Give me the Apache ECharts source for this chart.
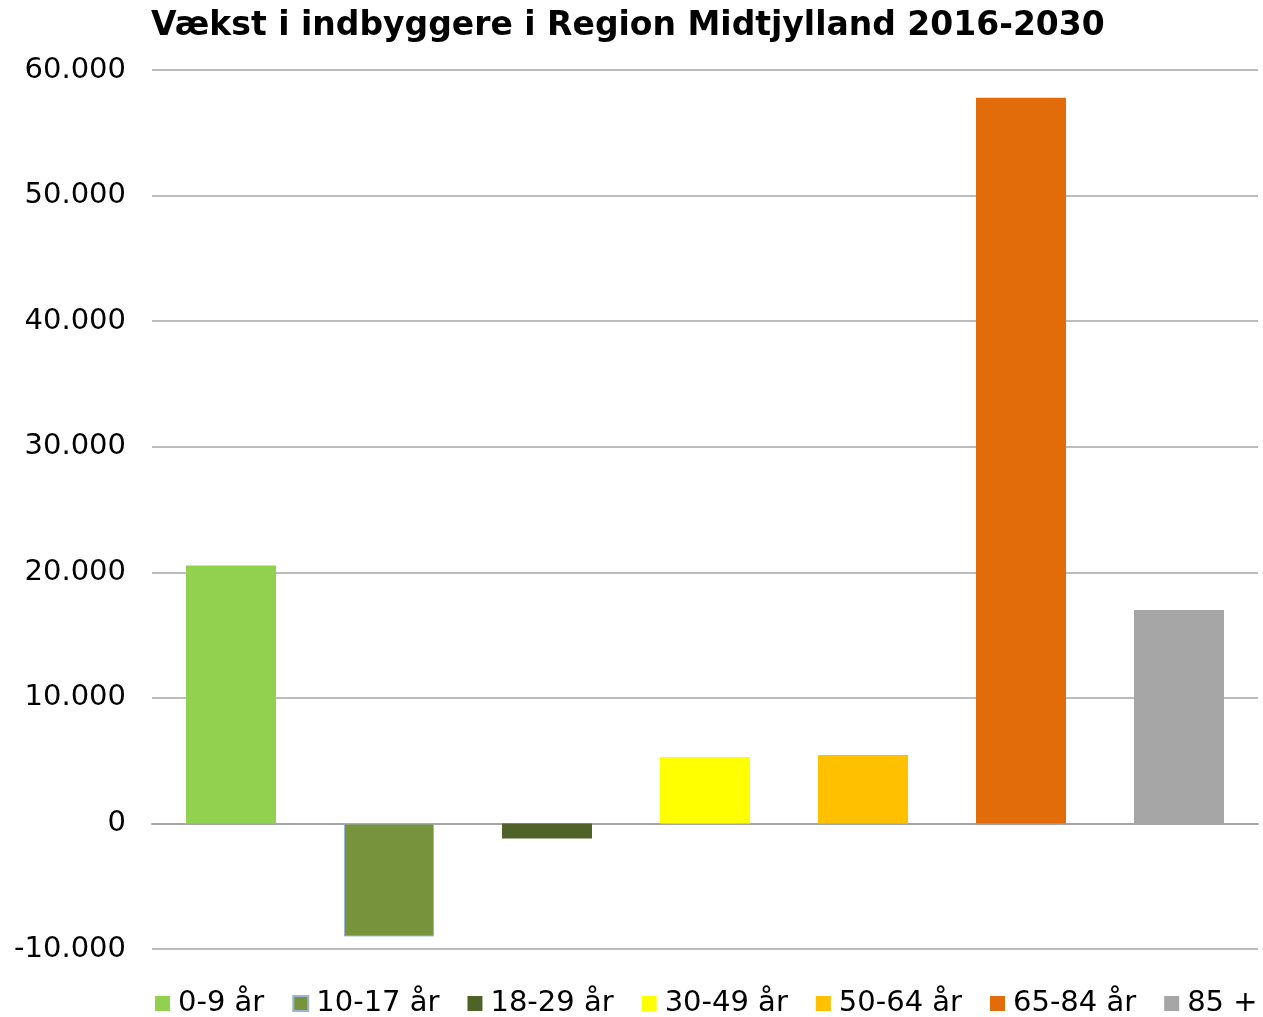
<!DOCTYPE html>
<html>
<head>
<meta charset="utf-8">
<script src="https://cdn.jsdelivr.net/npm/echarts@6/dist/echarts.min.js"></script>
<style>
  html, body { margin: 0; padding: 0; background: #fff; }
  #chart { width: 1263px; height: 1017px; }
</style>
</head>
<body>
<div id="chart"></div>
<script>
const categories = ['0-9 år', '10-17 år', '18-29 år', '30-49 år', '50-64 år', '65-84 år', '85 +']
const values = [20550, -9000, -1200, 5300, 5450, 57800, 17000]
const colors = ['#92d050', '#77933c', '#4f6228', '#ffff00', '#ffc000', '#e26b0a', '#a6a6a6']

const chart = echarts.init(document.getElementById('chart'))

// one series per age group so each gets its own legend entry
const series = categories.map((name, i) => ({
  name,
  type: 'bar',
  stack: 'all',
  barWidth: 90,
  data: categories.map((c, j) => (j === i ? values[i] : '-')),
  itemStyle: {
    color: colors[i],
    borderColor: i === 1 ? '#9db3d3' : colors[i],
    borderWidth: i === 1 ? 1 : 0
  }
}))

const option = {
  animation: false,
  textStyle: { fontFamily: 'DejaVu Sans' },
  title: {
    text: 'Vækst i indbyggere i Region Midtjylland 2016-2030',
    left: 146,
    top: 5,
    textStyle: { fontSize: 33, fontWeight: 'bold', color: '#000', fontFamily: 'DejaVu Sans' }
  },
  grid: { left: 152, right: 5, top: 70, bottom: 68, containLabel: false },
  legend: {
    bottom: -1,
    left: 155,
    width: 1108,
    padding: 0,
    itemWidth: 15,
    itemHeight: 15,
    itemGap: 28,
    icon: 'rect',
    textStyle: { fontSize: 29, color: '#000', fontFamily: 'DejaVu Sans', padding: [0, 0, 0, 3] },
    data: categories
  },
  xAxis: {
    type: 'category',
    data: categories,
    axisLine: { show: true, lineStyle: { color: '#a6a6a6', width: 2 } },
    axisTick: { show: false },
    axisLabel: { show: false }
  },
  yAxis: {
    type: 'value',
    min: -10000,
    max: 60000,
    interval: 10000,
    axisLine: { show: false },
    axisTick: { show: false },
    splitLine: { lineStyle: { color: '#a6a6a6', width: 1.5 } },
    axisLabel: {
      fontSize: 29,
      color: '#000',
      margin: 26,
      formatter: v => v.toLocaleString('de-DE')
    }
  },
  series
}

chart.setOption(option)
</script>
</body>
</html>
